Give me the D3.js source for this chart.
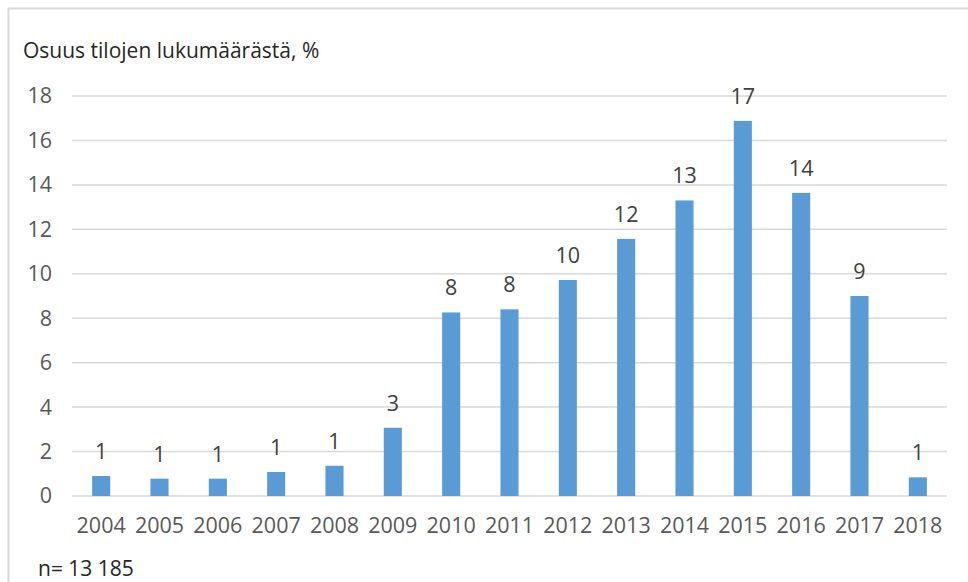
<!DOCTYPE html>
<html>
<head>
<meta charset="utf-8">
<script src="https://cdn.jsdelivr.net/npm/d3@7"></script>
<style>
  html, body { margin: 0; padding: 0; background: #fff; }
  svg { display: block; }
  text { font-family: "Open Sans", "Noto Sans", sans-serif; fill: #595959; }
</style>
</head>
<body>
<svg id="chart" width="968" height="582"></svg>
<script>
const years = ["2004","2005","2006","2007","2008","2009","2010","2011","2012","2013","2014","2015","2016","2017","2018"];
const values = [0.9, 0.78, 0.78, 1.08, 1.36, 3.07, 8.26, 8.4, 9.72, 11.57, 13.3, 16.88, 13.64, 9.0, 0.84];
const labels = ["1","1","1","1","1","3","8","8","10","12","13","17","14","9","1"];
const yTicks = [0, 2, 4, 6, 8, 10, 12, 14, 16, 18];
const title = "Osuus tilojen lukumäärästä, %";
const note = "n= 13 185";

const svg = d3.select("#chart");
const W = 968, H = 582;
const m = { left: 72, right: 21, top: 96, bottom: 86 };
const FS = 21.5;

// frame
svg.append("path")
  .attr("d", `M8.5,${H} L8.5,8.5 L${W},8.5`)
  .attr("fill", "none").attr("stroke", "#d9d9d9").attr("stroke-width", 2);

const x = d3.scaleBand().domain(years).range([m.left, W - m.right]).paddingInner(0.69).paddingOuter(0.345);
const y = d3.scaleLinear().domain([0, 18]).range([H - m.bottom, m.top]);

// gridlines
svg.append("g").selectAll("line").data(yTicks).join("line")
  .attr("x1", m.left).attr("x2", W - m.right)
  .attr("y1", d => y(d)).attr("y2", d => y(d))
  .attr("stroke", "#d9d9d9").attr("stroke-width", 1.5);

// y axis labels
const yAxis = d3.axisLeft(y).tickValues(yTicks).tickSize(0).tickPadding(20);
const gy = svg.append("g").attr("transform", `translate(${m.left},0)`).call(yAxis);
gy.select(".domain").remove();
gy.selectAll("text").attr("font-size", FS).attr("fill", "#595959")
  .style("font-family", '"Open Sans", sans-serif');

// x axis labels
const xAxis = d3.axisBottom(x).tickSize(0).tickPadding(22);
const gx = svg.append("g").attr("transform", `translate(0,${y(0)})`).call(xAxis);
gx.select(".domain").remove();
gx.selectAll("text").attr("font-size", FS).attr("fill", "#595959")
  .style("font-family", '"Open Sans", sans-serif');

// bars
svg.append("g").selectAll("rect").data(years).join("rect")
  .attr("x", d => x(d))
  .attr("width", x.bandwidth())
  .attr("y", (d, i) => y(values[i]))
  .attr("height", (d, i) => y(0) - y(values[i]))
  .attr("fill", "#5b9bd5");

// data labels
svg.append("g").selectAll("text").data(years).join("text")
  .attr("x", d => x(d) + x.bandwidth() / 2)
  .attr("y", (d, i) => y(values[i]) - 17)
  .attr("text-anchor", "middle")
  .attr("font-size", FS)
  .style("fill", "#404040")
  .text((d, i) => labels[i]);

// title
svg.append("text").attr("x", 23).attr("y", 58).attr("font-size", 21)
  .style("fill", "#262626").text(title);

// note
svg.append("text").attr("x", 38).attr("y", 576).attr("font-size", 21).style("fill", "#262626").text(note);
</script>
</body>
</html>
